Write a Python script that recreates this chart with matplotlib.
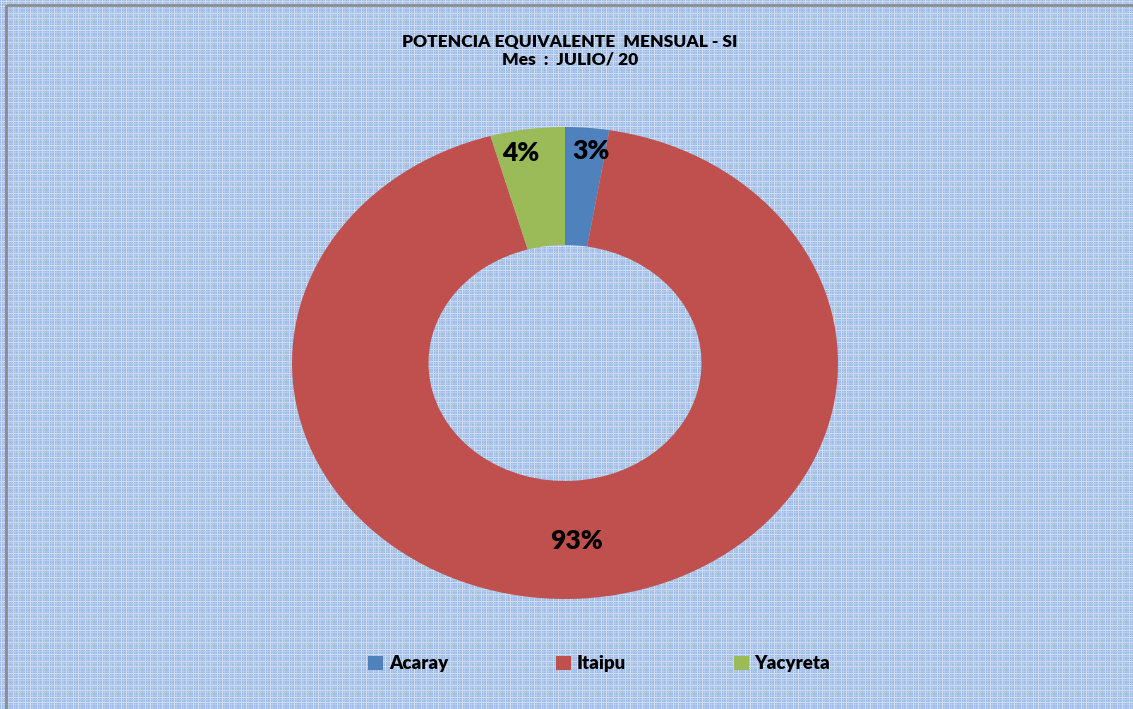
import numpy as np
import matplotlib.pyplot as plt
from matplotlib.patches import Rectangle

# data
fuentes = ["Acaray", "Itaipu", "Yacyreta"]
valores = [2.6, 93.0, 4.4]
etiquetas = ["3%", "93%", "4%"]
colores = ["#4f81bd", "#c0504d", "#9bbb59"]

titulo = "POTENCIA EQUIVALENTE  MENSUAL - SI\nMes  :  JULIO/ 20"

plt.rcParams['font.family'] = ['Lato', 'DejaVu Sans']

W, H = 1133, 709
fig = plt.figure(figsize=(W / 100, H / 100), dpi=100)

# plaid background texture
xs = np.arange(W)
ys = np.arange(H)
stripe = np.array([0.0, 0.55, 0.0, 0.25, 0.0, 0.0, 0.6, 0.0, 0.3, 0.0, 0.0, 0.15])
wx = stripe[xs % len(stripe)]
wy = stripe[ys % len(stripe)]
w = np.maximum(wx[None, :], wy[:, None])
dots = ((xs[None, :] + ys[:, None]) % 2) * 0.08
w = np.clip(w + dots, 0, 1)
base = np.array([0.61, 0.73, 0.90])
white = np.array([0.93, 0.95, 0.99])
img = base[None, None, :] * (1 - w[..., None]) + white[None, None, :] * w[..., None]

bg = fig.add_axes([0, 0, 1, 1])
bg.imshow(img, extent=(0, W, H, 0), interpolation='nearest', aspect='auto')
bg.set_xlim(0, W)
bg.set_ylim(H, 0)
bg.axis('off')
bg.add_patch(Rectangle((6, 5), W + 10, H + 10, fill=False, edgecolor='#8c8c8c', lw=2))

# donut (stretched like the original)
cx, cy, rx, ry = 565, 363, 273, 236
ax = fig.add_axes([(cx - rx) / W, (H - cy - ry) / H, 2 * rx / W, 2 * ry / H])
wedges, textos, pcts = ax.pie(valores, colors=colores, startangle=90, counterclock=False,
                              radius=1.0, wedgeprops=dict(width=0.5, edgecolor='none'),
                              autopct='%1.0f%%', pctdistance=0.755,
                              textprops=dict(fontsize=19, fontweight='heavy', color='black'))
for i, t in enumerate(pcts):
    t.set_text(etiquetas[i])
    if valores[i] < 10:
        wd = wedges[i]
        ang = np.deg2rad((wd.theta1 + wd.theta2) / 2)
        t.set_position((1.3 * 0.9 * np.cos(ang), 0.9 * np.sin(ang)))
ax.set_aspect('auto')
ax.set_xlim(-1, 1)
ax.set_ylim(-1, 1)
ax.axis('off')

fig.text(0.503, (H - 51) / H, titulo, ha='center', va='center', fontsize=12.5,
         fontweight='heavy', linespacing=1.15)

fig.legend(wedges, fuentes, loc='center', bbox_to_anchor=(0.529, (H - 664) / H), ncol=3,
           frameon=False, prop=dict(size=13.5, weight='heavy'), handlelength=0.8,
           handleheight=0.8, handletextpad=0.3, columnspacing=5.75)

fig.savefig("out.png", dpi=100)
